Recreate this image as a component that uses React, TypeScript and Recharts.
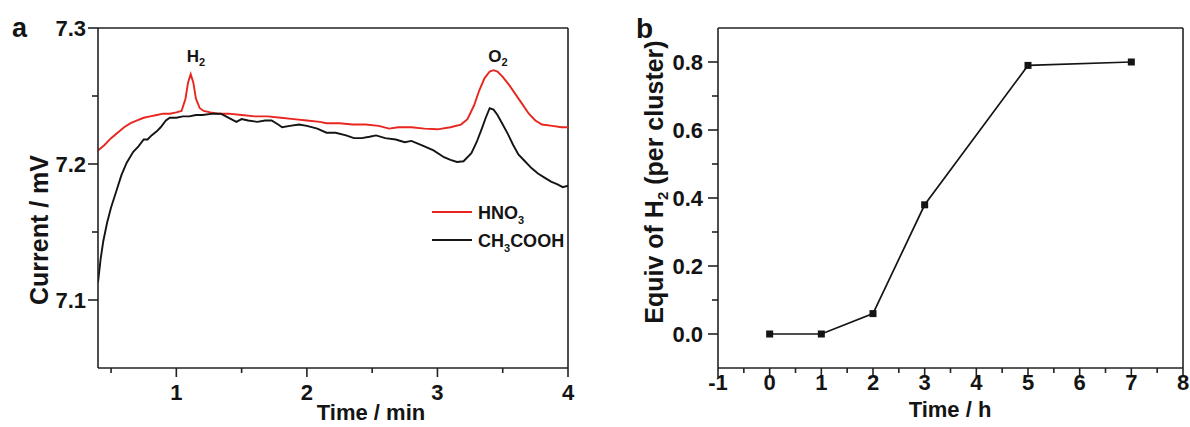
import React from 'react';
import { LineChart, Line, XAxis, YAxis, ReferenceLine } from 'recharts';

// panel a: current traces (time in min, current in mV)
const hno3Time = [
  0.4, 0.45, 0.5, 0.55, 0.6, 0.65, 0.7, 0.75, 0.8, 0.85, 0.9, 0.95, 1.0, 1.04, 1.07, 1.09, 1.11, 1.13,
  1.15, 1.18, 1.21, 1.26, 1.32, 1.4, 1.5, 1.6, 1.7, 1.8, 1.9, 2.0, 2.1, 2.15, 2.25, 2.35, 2.45, 2.55,
  2.63, 2.7, 2.8, 2.9, 3.0, 3.1, 3.18, 3.23, 3.28, 3.32, 3.36, 3.4, 3.43, 3.46, 3.5, 3.55, 3.6, 3.65,
  3.7, 3.75, 3.8, 3.88, 3.95, 4.0,
];
const hno3Current = [
  7.21, 7.214, 7.219, 7.223, 7.227, 7.23, 7.232, 7.234, 7.235, 7.236, 7.237, 7.237, 7.238, 7.239, 7.248,
  7.26, 7.266, 7.26, 7.248, 7.241, 7.239, 7.238, 7.237, 7.237, 7.236, 7.235, 7.235, 7.234, 7.233, 7.232,
  7.231, 7.23, 7.23, 7.229, 7.229, 7.228, 7.226, 7.227, 7.227, 7.226, 7.2255, 7.227, 7.229, 7.233, 7.243,
  7.254, 7.263, 7.268, 7.269, 7.268, 7.264, 7.258, 7.251, 7.244, 7.237, 7.232, 7.229, 7.228, 7.227, 7.227,
];
const acetTime = [
  0.4, 0.42, 0.44, 0.47, 0.5, 0.54, 0.58, 0.62, 0.67, 0.71, 0.75, 0.78, 0.81, 0.85, 0.88, 0.92, 0.95, 1.0,
  1.05, 1.1, 1.15, 1.2, 1.28, 1.34, 1.38, 1.42, 1.46, 1.5, 1.55, 1.62, 1.68, 1.73, 1.78, 1.81, 1.87, 1.94,
  2.0, 2.08, 2.15, 2.22, 2.3, 2.36, 2.42, 2.48, 2.53, 2.6, 2.68, 2.75, 2.8, 2.85, 2.9, 2.97, 3.05, 3.1,
  3.15, 3.2, 3.26, 3.3, 3.34, 3.37, 3.4, 3.43, 3.46, 3.5, 3.54, 3.58, 3.62, 3.67, 3.72, 3.77, 3.82, 3.87,
  3.92, 3.96, 4.0,
];
const acetCurrent = [
  7.113, 7.13, 7.143, 7.157, 7.168, 7.18, 7.192, 7.201, 7.209, 7.213, 7.218, 7.218, 7.221, 7.224, 7.227,
  7.232, 7.234, 7.234, 7.235, 7.235, 7.236, 7.236, 7.237, 7.237, 7.235, 7.233, 7.231, 7.233, 7.232, 7.231,
  7.232, 7.232, 7.229, 7.227, 7.228, 7.229, 7.228, 7.226, 7.223, 7.223, 7.221, 7.219, 7.219, 7.22, 7.221,
  7.219, 7.218, 7.216, 7.217, 7.215, 7.213, 7.21, 7.205, 7.203, 7.2015, 7.202, 7.208, 7.216, 7.226, 7.234,
  7.241, 7.24, 7.236, 7.229, 7.222, 7.214, 7.207, 7.202, 7.197, 7.193, 7.19, 7.187, 7.185, 7.183, 7.184,
];
const aMajorX = [1, 2, 3, 4];
const aMinorX = [0.5, 1.5, 2.5, 3.5];
const aMajorY = [7.1, 7.2, 7.3];
const aMinorY = [7.15, 7.25];

// panel b: H2 equivalents per cluster vs time (h)
const bTime = [0, 1, 2, 3, 5, 7];
const bEquiv = [0, 0, 0.06, 0.38, 0.79, 0.8];
const bMajorX = [-1, 0, 1, 2, 3, 4, 5, 6, 7, 8];
const bMinorX = [-0.5, 0.5, 1.5, 2.5, 3.5, 4.5, 5.5, 6.5, 7.5];
const bMajorY = [0, 0.2, 0.4, 0.6, 0.8];
const bMinorY = [0.1, 0.3, 0.5, 0.7];

const RED = '#e8261f';
const INK = '#141414';
const AXIS = '#222';
const FONT = '"Liberation Sans", Arial, sans-serif';

const hno3Data = hno3Time.map((t, i) => ({ t, v: hno3Current[i] }));
const acetData = acetTime.map((t, i) => ({ t, v: acetCurrent[i] }));
const bData = bTime.map((t, i) => ({ t, v: bEquiv[i] }));

const near = (list: number[], v: number) => list.some((m) => Math.abs(m - v) < 1e-6);

const makeXTick = (majors: number[], fmt: (v: number) => string, labelDy: number) => (props: any) => {
  const { x, y, payload } = props;
  const major = near(majors, payload.value);
  return (
    <g>
      <line x1={x} x2={x} y1={y} y2={y + (major ? 9 : 5)} stroke={AXIS} strokeWidth={1.6} />
      {major && (
        <text x={x} y={y + labelDy} textAnchor="middle" fontSize={22} fontWeight="bold" fill={INK}>
          {fmt(payload.value)}
        </text>
      )}
    </g>
  );
};

const makeYTick = (majors: number[], fmt: (v: number) => string, gap: number) => (props: any) => {
  const { x, y, payload } = props;
  const major = near(majors, payload.value);
  return (
    <g>
      <line x1={x - (major ? 10 : 6)} x2={x} y1={y} y2={y} stroke={AXIS} strokeWidth={1.6} />
      {major && (
        <text x={x - gap} y={y} dy="0.36em" textAnchor="end" fontSize={22} fontWeight="bold" fill={INK}>
          {fmt(payload.value)}
        </text>
      )}
    </g>
  );
};

const squareDot = (props: any) => {
  const { cx, cy, index } = props;
  return <rect key={`sq-${index}`} x={cx - 3.5} y={cy - 3.5} width={7} height={7} fill={INK} />;
};

const axisLine = { stroke: AXIS, strokeWidth: 1.6 };

export default function App() {
  return (
    <div
      style={{
        position: 'absolute',
        left: 0,
        top: 0,
        width: 1190,
        height: 427,
        background: '#fff',
        fontFamily: FONT,
      }}
    >
      <div style={{ position: 'absolute', left: 0, top: 0 }}>
        <LineChart width={595} height={427} margin={{ top: 28, right: 27, bottom: 0, left: 0 }}>
          <XAxis
            type="number"
            dataKey="t"
            domain={[0.4, 4]}
            allowDataOverflow
            ticks={[...aMinorX, ...aMajorX].sort((p, q) => p - q)}
            interval={0}
            tickSize={0}
            tickMargin={0}
            tickLine={false}
            axisLine={axisLine}
            height={59}
            tick={makeXTick(aMajorX, (v) => String(v), 32)}
          />
          <YAxis
            type="number"
            domain={[7.05, 7.3]}
            allowDataOverflow
            ticks={[...aMajorY, ...aMinorY].sort((p, q) => p - q)}
            interval={0}
            tickSize={0}
            tickMargin={0}
            tickLine={false}
            axisLine={axisLine}
            width={98}
            tick={makeYTick(aMajorY, (v) => v.toFixed(1), 12)}
          />
          <ReferenceLine y={7.3} stroke={AXIS} strokeWidth={1.6} />
          <ReferenceLine x={4} stroke={AXIS} strokeWidth={1.6} />
          <Line
            data={hno3Data}
            dataKey="v"
            type="linear"
            stroke={RED}
            strokeWidth={1.9}
            dot={false}
            isAnimationActive={false}
          />
          <Line
            data={acetData}
            dataKey="v"
            type="linear"
            stroke={INK}
            strokeWidth={1.9}
            dot={false}
            isAnimationActive={false}
          />
        </LineChart>
      </div>

      <div style={{ position: 'absolute', left: 595, top: 0 }}>
        <LineChart width={595} height={427} data={bData} margin={{ top: 28, right: 7, bottom: 0, left: 0 }}>
          <XAxis
            type="number"
            dataKey="t"
            domain={[-1, 8]}
            allowDataOverflow
            ticks={[...bMinorX, ...bMajorX].sort((p, q) => p - q)}
            interval={0}
            tickSize={0}
            tickMargin={0}
            tickLine={false}
            axisLine={axisLine}
            height={59}
            tick={makeXTick(bMajorX, (v) => String(v), 22)}
          />
          <YAxis
            type="number"
            domain={[-0.1, 0.9]}
            allowDataOverflow
            ticks={[...bMajorY, ...bMinorY].sort((p, q) => p - q)}
            interval={0}
            tickSize={0}
            tickMargin={0}
            tickLine={false}
            axisLine={axisLine}
            width={123}
            tick={makeYTick(bMajorY, (v) => v.toFixed(1), 15)}
          />
          <ReferenceLine y={0.9} stroke={AXIS} strokeWidth={1.6} />
          <ReferenceLine x={8} stroke={AXIS} strokeWidth={1.6} />
          <Line
            dataKey="v"
            type="linear"
            stroke={INK}
            strokeWidth={1.7}
            dot={squareDot}
            isAnimationActive={false}
          />
        </LineChart>
      </div>

      <svg
        width={1190}
        height={427}
        style={{ position: 'absolute', left: 0, top: 0, pointerEvents: 'none' }}
        fontFamily={FONT}
        fontWeight="bold"
        fill={INK}
      >
        <text x={12} y={37} fontSize={27}>a</text>
        <text x={636} y={38} fontSize={28}>b</text>

        <text x={196} y={62} fontSize={17} textAnchor="middle">
          H<tspan fontSize={11} dy={4}>2</tspan>
        </text>
        <text x={498} y={62} fontSize={17} textAnchor="middle">
          O<tspan fontSize={11} dy={4}>2</tspan>
        </text>

        <line x1={432} x2={472} y1={212} y2={212} stroke={RED} strokeWidth={2} />
        <text x={478} y={219} fontSize={18}>
          HNO<tspan fontSize={11} dy={5}>3</tspan>
        </text>
        <line x1={432} x2={472} y1={240} y2={240} stroke={INK} strokeWidth={2} />
        <text x={478} y={247} fontSize={18}>
          CH<tspan fontSize={11} dy={5}>3</tspan>
          <tspan dy={-5}>COOH</tspan>
        </text>

        <text x={371} y={420} fontSize={22} textAnchor="middle">Time / min</text>
        <text x={950} y={417} fontSize={22} textAnchor="middle">Time / h</text>

        <text x={48} y={230} fontSize={25} textAnchor="middle" transform="rotate(-90 48 230)">
          Current / mV
        </text>
        <text x={663} y={182} fontSize={25} textAnchor="middle" transform="rotate(-90 663 182)">
          Equiv of H<tspan fontSize={15} dy={5}>2</tspan>
          <tspan dy={-5}> (per cluster)</tspan>
        </text>
      </svg>
    </div>
  );
}
